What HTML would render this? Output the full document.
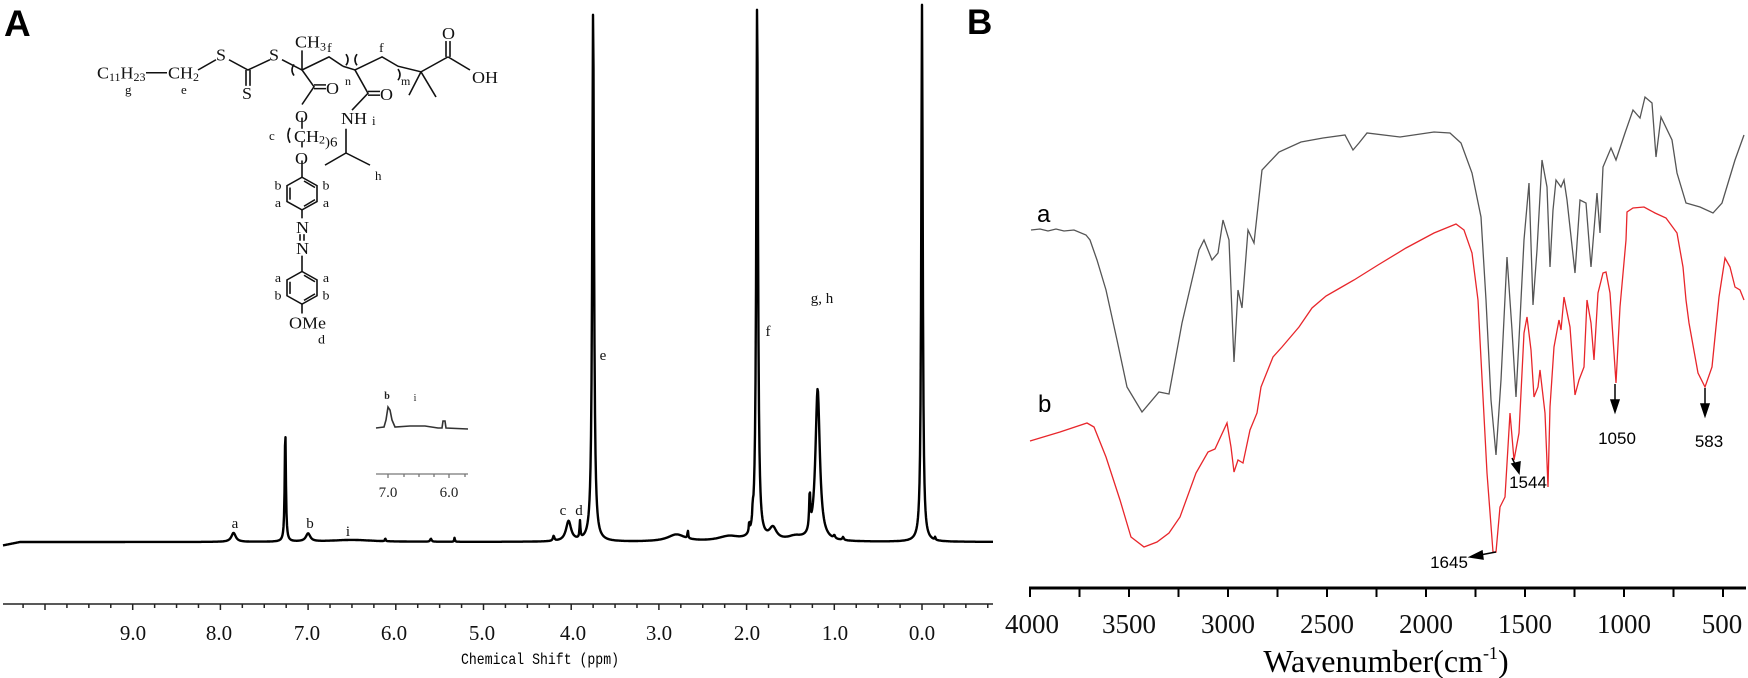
<!DOCTYPE html>
<html><head><meta charset="utf-8">
<style>
html,body{margin:0;padding:0;background:#fff;}
svg{display:block;}
.ser{font-family:"Liberation Serif",serif;}
.san{font-family:"Liberation Sans",sans-serif;}
.mono{font-family:"Liberation Mono",monospace;}
</style></head>
<body>
<svg id="s" width="1748" height="678" viewBox="0 0 1748 678" xmlns="http://www.w3.org/2000/svg">
<rect width="1748" height="678" fill="#fff"/>
<text x="4" y="36" class="san" font-size="37" font-weight="bold">A</text>
<text x="967" y="34" class="san" font-size="35" font-weight="bold">B</text>

<!-- Structure -->
<g transform="scale(1,0.933)">
<g stroke="#111" stroke-width="1.6" fill="none">
<line x1="146" y1="78" x2="167" y2="78"/>
<polyline points="198,75 216,64"/>
<polyline points="229,64 248,75 270,64"/>
<line x1="246" y1="75" x2="246" y2="92"/><line x1="250" y1="75" x2="250" y2="92"/>
<polyline points="282,64 302,75 329,61 343,71"/>
<line x1="302" y1="75" x2="302" y2="54"/>
<polyline points="302,75 314,93 302,112"/>
<line x1="314" y1="91" x2="326" y2="91"/><line x1="314" y1="95" x2="326" y2="95"/>
<line x1="302" y1="126" x2="302" y2="138"/>
<line x1="302" y1="152" x2="302" y2="158"/>
<line x1="302" y1="172" x2="302" y2="190"/>
<polygon points="302,190 317,199 317,216 302,225 287,216 287,199"/>
<line x1="290" y1="201" x2="290" y2="214"/><line x1="304" y1="194" x2="315" y2="201"/><line x1="304" y1="221" x2="315" y2="214"/>
<line x1="302" y1="225" x2="302" y2="234"/>
<line x1="300" y1="251" x2="300" y2="258"/><line x1="304" y1="251" x2="304" y2="258"/>
<line x1="302" y1="274" x2="302" y2="291"/>
<polygon points="302,291 317,300 317,317 302,326 287,317 287,300"/>
<line x1="290" y1="302" x2="290" y2="315"/><line x1="304" y1="295" x2="315" y2="302"/><line x1="304" y1="322" x2="315" y2="315"/>
<line x1="302" y1="326" x2="302" y2="336"/>
<polyline points="343,71 355,75 382,61 398,71 421,77 448,61"/>
<line x1="421" y1="77" x2="409" y2="102"/><line x1="421" y1="77" x2="436" y2="104"/>
<line x1="446" y1="61" x2="446" y2="44"/><line x1="450" y1="61" x2="450" y2="44"/>
<line x1="448" y1="61" x2="470" y2="75"/>
<polyline points="355,75 368,100 352,118"/>
<line x1="368" y1="98" x2="380" y2="98"/><line x1="368" y1="102" x2="380" y2="102"/>
<polyline points="346,138 346,164 325,177"/><line x1="346" y1="164" x2="370" y2="177"/>
<path d="M294,69 q-4,6 0,12"/><path d="M346,58 q4,6 0,12"/>
<path d="M357,58 q-4,6 0,12"/><path d="M398,74 q4,6 0,12"/>
<path d="M290,137 q-4,8 0,16"/>
</g>
<g class="ser" font-size="18" fill="#111">
<text x="97" y="84">C<tspan font-size="12" dy="3">11</tspan><tspan dy="-3">H</tspan><tspan font-size="12" dy="3">23</tspan></text>
<text x="125" y="101" font-size="13">g</text>
<text x="168" y="84">CH<tspan font-size="12" dy="3">2</tspan></text>
<text x="181" y="101" font-size="13">e</text>
<text x="216" y="65">S</text><text x="242" y="106">S</text><text x="269" y="65">S</text>
<text x="295" y="51">CH<tspan font-size="12" dy="3">3</tspan></text>
<text x="327" y="56" font-size="14">f</text><text x="379" y="56" font-size="14">f</text>
<text x="345" y="91" font-size="12">n</text><text x="401" y="91" font-size="12">m</text>
<text x="326" y="101">O</text><text x="380" y="107">O</text>
<text x="442" y="42">O</text><text x="472" y="89">OH</text>
<text x="295" y="131">O</text>
<text x="269" y="150" font-size="13">c</text>
<text x="294" y="152">CH<tspan font-size="12" dy="2">2</tspan><tspan dy="3" font-size="15">)6</tspan></text>
<text x="295" y="176">O</text>
<text x="341" y="133">NH</text><text x="372" y="134" font-size="13">i</text>
<text x="375" y="193" font-size="13">h</text>
<text x="296" y="250">N</text><text x="296" y="272">N</text>
<text x="289" y="352">OMe</text><text x="318" y="368" font-size="14">d</text>
</g>
<g class="ser" font-size="14" fill="#111" text-anchor="middle">
<text x="278" y="203">b</text><text x="326" y="203">b</text>
<text x="278" y="222">a</text><text x="326" y="222">a</text>
<text x="278" y="302">a</text><text x="326" y="302">a</text>
<text x="278" y="321">b</text><text x="326" y="321">b</text>
</g>
</g>

<!-- NMR -->
<path id="nmr" fill="none" stroke="#000" stroke-width="2.4" stroke-linejoin="round"/>
<g class="ser" font-size="15" fill="#111" text-anchor="middle">
<text x="235" y="528">a</text><text x="310" y="528">b</text><text x="348" y="536">i</text>
<text x="563" y="515">c</text><text x="579" y="515">d</text>
<text x="603" y="360">e</text><text x="768" y="336">f</text><text x="822" y="303">g, h</text>
</g>
<!-- inset -->
<path d="M376,428 L384,427 L386,420 L388,407 L390,410 L392,420 L395,427 L410,426 L425,426 L438,428 L442,428 L443,421 L445,421 L446,428 L468,429" fill="none" stroke="#333" stroke-width="1.6"/>
<g stroke="#777" stroke-width="1.3"><line x1="376" y1="474" x2="468" y2="474"/>
<line x1="388" y1="474" x2="388" y2="478"/><line x1="404" y1="474" x2="404" y2="477"/><line x1="419" y1="474" x2="419" y2="477"/><line x1="434" y1="474" x2="434" y2="477"/><line x1="449" y1="474" x2="449" y2="478"/><line x1="465" y1="474" x2="465" y2="477"/></g>
<g class="ser" font-size="15" fill="#222" text-anchor="middle"><text x="388" y="497">7.0</text><text x="449" y="497">6.0</text>
<text x="387" y="399" font-size="10" font-weight="bold">b</text><text x="415" y="401" font-size="10">i</text></g>

<g id="axA" stroke="#222" stroke-width="1.5"><line x1="3" y1="604" x2="993" y2="604"/></g>
<g class="ser" font-size="21" fill="#111" text-anchor="middle">
<text x="133" y="640">9.0</text><text x="219" y="640">8.0</text><text x="307" y="640">7.0</text><text x="394" y="640">6.0</text><text x="482" y="640">5.0</text><text x="573" y="640">4.0</text><text x="659" y="640">3.0</text><text x="747" y="640">2.0</text><text x="835" y="640">1.0</text><text x="922" y="640">0.0</text>
</g>
<text x="540" y="664" class="mono" font-size="16" text-anchor="middle" textLength="158" lengthAdjust="spacingAndGlyphs">Chemical Shift (ppm)</text>

<!-- IR -->
<polyline fill="none" stroke="#555" stroke-width="1.3" points="1031,230 1040,229 1048,231 1056,229 1064,231 1074,230 1086,235 1090,240 1097,260 1106,290 1117,340 1127,387 1142,412 1159,392 1169,394 1182,323 1199,250 1204,240 1212,260 1218,253 1223,220 1229,240 1234,362 1238,290 1242,308 1248,230 1254,243 1262,170 1279,152 1301,142 1323,138 1345,135 1353,150 1359,143 1367,133 1400,137 1434,132 1450,133 1461,143 1472,173 1481,217 1486,300 1491,400 1496,455 1501,380 1507,257 1512,330 1516,397 1520,320 1524,240 1529,183 1533,305 1537,250 1542,160 1547,187 1550,267 1553,210 1556,180 1561,187 1564,180 1567,200 1575,273 1580,200 1586,203 1591,267 1597,193 1600,233 1603,167 1611,148 1616,160 1625,133 1633,110 1640,118 1645,97 1652,103 1656,157 1661,117 1672,140 1677,173 1686,203 1700,207 1713,213 1722,203 1735,160 1744,135"/>
<polyline fill="none" stroke="#e8262b" stroke-width="1.3" points="1030,441 1060,432 1087,423 1094,427 1106,457 1120,500 1131,537 1144,547 1157,542 1169,533 1180,517 1196,473 1208,452 1215,449 1227,423 1231,447 1234,472 1238,460 1243,463 1250,430 1257,413 1261,387 1273,357 1282,347 1299,327 1312,308 1326,296 1340,288 1354,280 1378,265 1406,248 1434,233 1456,224 1464,230 1472,253 1478,300 1480,340 1487,473 1493,552 1496,552 1500,507 1505,497 1510,413 1514,460 1519,433 1524,333 1527,317 1531,350 1534,397 1538,387 1540,370 1545,413 1548,487 1550,407 1554,347 1559,320 1561,330 1564,297 1570,327 1575,395 1579,380 1584,367 1587,300 1591,323 1594,360 1598,293 1603,273 1606,272 1610,293 1616,383 1620,307 1626,240 1627,212 1633,208 1644,207 1655,213 1666,218 1677,233 1683,267 1686,300 1689,323 1698,373 1705,387 1712,367 1719,297 1725,258 1730,267 1735,287 1740,290 1744,300"/>
<g stroke="#000" stroke-width="1.5" fill="#000">
<line x1="1615" y1="384" x2="1615" y2="402"/><polygon points="1611,400 1619,400 1615,412"/>
<line x1="1705" y1="388" x2="1705" y2="406"/><polygon points="1701,404 1709,404 1705,416"/>
<line x1="1512" y1="458" x2="1516" y2="466"/><polygon points="1512,464 1520,462 1519,473"/>
<line x1="1496" y1="552" x2="1480" y2="555"/><polygon points="1482,551 1483,559 1470,557"/>
</g>
<g class="san" font-size="17" fill="#000" text-anchor="middle">
<text x="1617" y="444">1050</text><text x="1709" y="447">583</text><text x="1528" y="488">1544</text><text x="1449" y="568">1645</text>
</g>
<text x="1037" y="222" class="san" font-size="24">a</text>
<text x="1038" y="412" class="san" font-size="24">b</text>
<g id="axB" stroke="#000" stroke-width="3"><line x1="1029" y1="588" x2="1746" y2="588"/></g>
<g class="ser" font-size="27" fill="#111" text-anchor="middle">
<text x="1032" y="633">4000</text><text x="1129" y="633">3500</text><text x="1228" y="633">3000</text><text x="1327" y="633">2500</text><text x="1426" y="633">2000</text><text x="1525" y="633">1500</text><text x="1624" y="633">1000</text><text x="1722" y="633">500</text>
</g>
<text x="1386" y="672" class="ser" font-size="32" text-anchor="middle">Wavenumber(cm<tspan font-size="18" dy="-13">-1</tspan><tspan dy="13">)</tspan></text>
</svg>
<script>
(function(){
var ns="http://www.w3.org/2000/svg";
function X(p){return 922-87.7*p;}
var pk=[[7.85,9,0.03],[7.26,113,0.008],[7.0,8,0.03],[6.5,2,0.3],[6.12,3,0.005],[5.6,3,0.01],[5.33,4,0.005],[4.2,5,0.01],[4.03,20,0.035],[3.9,17,0.006],[3.75,534,0.012],[2.8,7,0.12],[2.67,8,0.005],[2.2,5,0.15],[1.97,10,0.005],[1.93,12,0.005],[1.88,537,0.012],[1.7,12,0.05],[1.45,4,0.1],[1.28,36,0.008],[1.19,152,0.03],[1.0,3,0.01],[0.9,3,0.01],[0.0,537,0.01],[-0.15,3,0.005]];
var d="";
for(var x=3;x<=993;x+=0.5){
 var p=(922-x)/87.7, y=542;
 if(x<20) y+= (20-x)*0.2;
 for(var i=0;i<pk.length;i++){var q=pk[i],w=q[2];y-=q[1]*w*w/((p-q[0])*(p-q[0])+w*w);}
 if(y<4)y=4;
 d+=(d?"L":"M")+x.toFixed(1)+","+y.toFixed(1);
}
document.getElementById("nmr").setAttribute("d",d);
var ga=document.getElementById("axA");
for(var v=10.25;v>=-0.75;v-=0.25){var xx=X(v);var l=document.createElementNS(ns,"line");l.setAttribute("x1",xx);l.setAttribute("x2",xx);l.setAttribute("y1",604);l.setAttribute("y2",Math.abs(v-Math.round(v))<0.01?610:608);ga.appendChild(l);}
var gb=document.getElementById("axB");
for(var w=4000;w>=400;w-=250){var xb=1030+(4000-w)*0.198;var m=document.createElementNS(ns,"line");m.setAttribute("x1",xb);m.setAttribute("x2",xb);m.setAttribute("y1",588);m.setAttribute("y2",597);m.setAttribute("stroke-width","2");gb.appendChild(m);}
})();
</script>
</body></html>
